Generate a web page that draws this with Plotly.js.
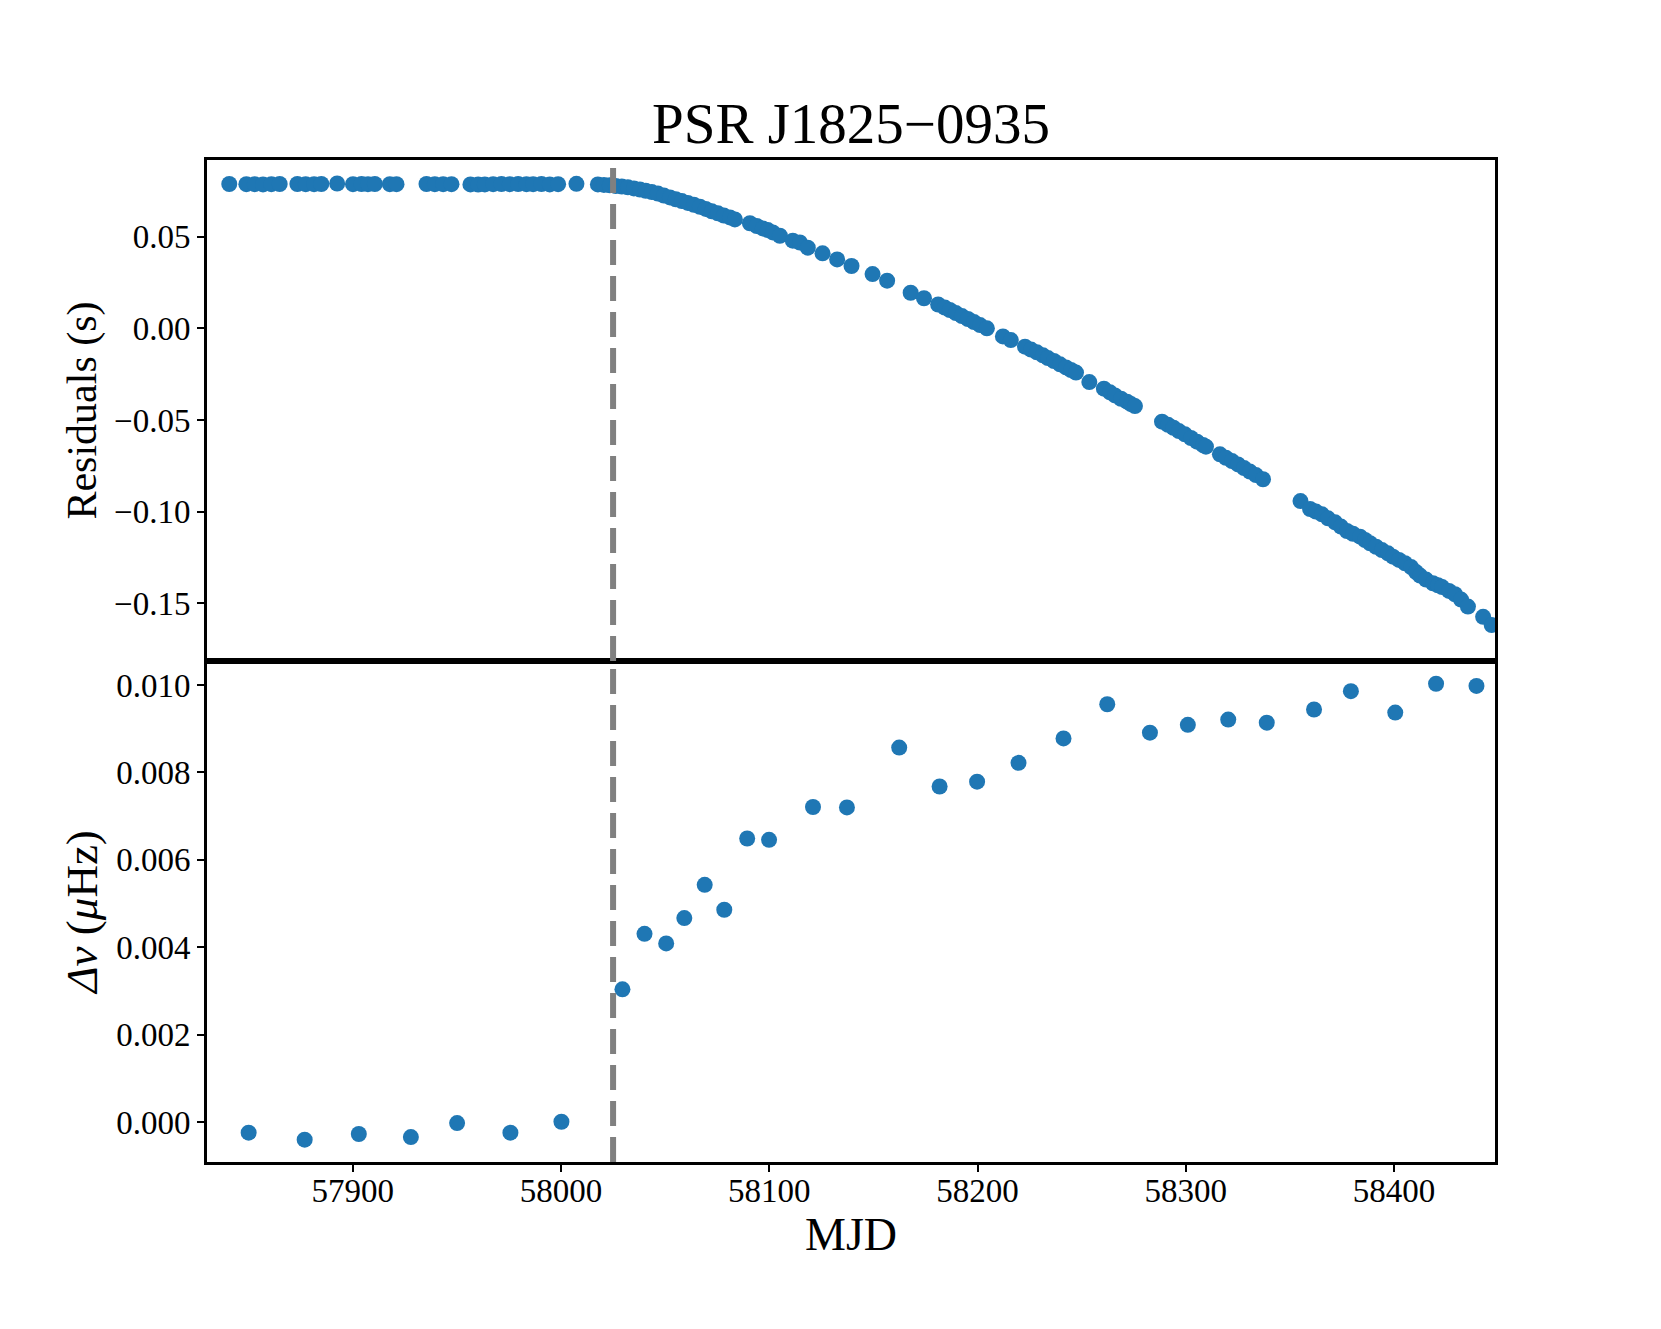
<!DOCTYPE html>
<html>
<head>
<meta charset="utf-8">
<script src="https://cdn.plot.ly/plotly-3.0.1.min.js"></script>
<style>
	body { margin: 0; background: #fff; }
	#graph { width: 1661px; height: 1329px; }
</style>
</head>
<body>
<div id="graph"></div>
<script>
// Timing residuals (top panel)
const resMJD = [
	57840.7, 57848.9, 57852.9, 57856.9, 57860.9, 57864.9, 57873.4, 57877.4, 57881.4, 57884.9,
	57892.5, 57900.1, 57904.2, 57907.3, 57910.6, 57917.8, 57921.0, 57935.4, 57939.4, 57943.4,
	57947.4, 57956.5, 57960.2, 57963.4, 57967.4, 57971.4, 57975.4, 57979.4, 57983.4, 57986.6,
	57990.6, 57994.6, 57998.6, 58007.4,
	58017.7, 58020.6, 58023.4, 58026.3, 58029.2, 58032.1, 58035.0, 58037.9, 58040.7, 58043.6,
	58046.5, 58049.4, 58052.3, 58055.1, 58058.0, 58060.9, 58063.8, 58066.7, 58069.5, 58072.4,
	58075.3, 58078.2, 58081.1, 58083.5, 58090.7, 58094.0, 58096.9, 58099.3, 58101.7, 58105.1,
	58111.3, 58114.7, 58118.5, 58125.6, 58132.6, 58139.5, 58149.6, 58156.6, 58167.9, 58174.3,
	58181.1, 58184.3, 58186.7, 58189.6, 58192.5, 58195.4, 58198.3, 58201.2, 58204.5, 58212.2,
	58216.0, 58222.8, 58225.7, 58228.5, 58231.4, 58233.8, 58236.7, 58239.6, 58242.5, 58244.9,
	58247.3, 58253.7, 58260.7, 58263.6, 58266.0, 58268.9, 58271.8, 58273.7, 58275.6, 58288.6,
	58291.5, 58294.1, 58296.7, 58299.6, 58302.5, 58305.4, 58308.3, 58309.7, 58316.4, 58319.3,
	58322.2, 58325.1, 58328.0, 58330.8, 58333.7, 58337.1, 58355.1, 58359.7, 58362.5, 58365.4,
	58368.3, 58371.7, 58374.5, 58377.4, 58380.3, 58383.7, 58386.1, 58388.5, 58391.4, 58394.2,
	58397.1, 58399.5, 58402.4, 58405.3, 58408.2, 58410.6, 58412.5, 58415.4, 58418.7, 58421.1,
	58423.1, 58426.4, 58429.3, 58432.2, 58435.5, 58442.8, 58446.9
]
const resSec = [
	0.0787, 0.0786, 0.0786, 0.0785, 0.0786, 0.0787, 0.0787, 0.0786, 0.0786, 0.0787,
	0.0790, 0.0786, 0.0787, 0.0786, 0.0787, 0.0786, 0.0786, 0.0787, 0.0786, 0.0786,
	0.0786, 0.0785, 0.0784, 0.0785, 0.0786, 0.0787, 0.0786, 0.0787, 0.0786, 0.0786,
	0.0787, 0.0785, 0.0786, 0.0788,
	0.0785, 0.0782, 0.0780, 0.0776, 0.0773, 0.0769, 0.0763, 0.0757, 0.0750, 0.0743,
	0.0735, 0.0724, 0.0714, 0.0704, 0.0694, 0.0684, 0.0674, 0.0663, 0.0651, 0.0638,
	0.0627, 0.0615, 0.0605, 0.0594, 0.0573, 0.0558, 0.0545, 0.0536, 0.0523, 0.0505,
	0.0478, 0.0468, 0.0440, 0.0409, 0.0376, 0.0340, 0.0296, 0.0260, 0.0194, 0.0164,
	0.0130, 0.0113, 0.0100, 0.0083, 0.0067, 0.0051, 0.0034, 0.0018, 0.0000, -0.0044,
	-0.0064, -0.0100, -0.0116, -0.0131, -0.0147, -0.0162, -0.0178, -0.0196, -0.0213, -0.0227,
	-0.0241, -0.0293, -0.0329, -0.0349, -0.0366, -0.0384, -0.0400, -0.0413, -0.0424, -0.0509,
	-0.0526, -0.0542, -0.0560, -0.0578, -0.0598, -0.0618, -0.0636, -0.0645, -0.0687, -0.0706,
	-0.0724, -0.0742, -0.0762, -0.0781, -0.0800, -0.0823, -0.0942, -0.0985, -0.0999, -0.1014,
	-0.1036, -0.1058, -0.1081, -0.1105, -0.1120, -0.1136, -0.1154, -0.1172, -0.1191, -0.1209,
	-0.1227, -0.1245, -0.1263, -0.1281, -0.1302, -0.1329, -0.1348, -0.1370, -0.1390, -0.1401,
	-0.1411, -0.1432, -0.1450, -0.1479, -0.1517, -0.1573, -0.1618
]

// Frequency offset (bottom panel)
const nuMJD = [
	57850.0, 57876.9, 57902.9, 57927.9, 57950.1, 57975.7, 58000.2,
	58029.5, 58040.1, 58050.5, 58059.2, 58069.0, 58078.4, 58089.4, 58099.9, 58121.0,
	58137.3, 58162.4, 58181.8, 58199.8, 58219.7, 58241.3, 58262.3, 58282.8, 58301.0,
	58320.4, 58338.9, 58361.6, 58379.3, 58400.6, 58420.2, 58439.6
]
const nuOffset = [
	-0.00024, -0.00040, -0.00027, -0.00034, -0.00002, -0.00024, 0.00001,
	0.00304, 0.00431, 0.00409, 0.00467, 0.00543, 0.00486, 0.00649, 0.00646, 0.00721,
	0.00720, 0.00857, 0.00768, 0.00779, 0.00822, 0.00878, 0.00956, 0.00891, 0.00909,
	0.00921, 0.00914, 0.00944, 0.00986, 0.00937, 0.01003, 0.00998
]

const glitchMJD = 58025

const mjdTicks = [57900, 58000, 58100, 58200, 58300, 58400]
const resTicks = [-0.15, -0.10, -0.05, 0.00, 0.05]
const resTickText = ['\u22120.15', '\u22120.10', '\u22120.05', '0.00', '0.05']
const nuTicks = [0.000, 0.002, 0.004, 0.006, 0.008, 0.010]
const nuTickText = ['0.000', '0.002', '0.004', '0.006', '0.008', '0.010']

const FONT = 'Liberation Serif, Times New Roman, serif'
const BLUE = '#1f77b4'

const data = [
	{
		x: resMJD, y: resSec,
		xaxis: 'x2', yaxis: 'y',
		type: 'scatter', mode: 'markers',
		marker: { color: BLUE, size: 16 },
	}, {
		x: nuMJD, y: nuOffset,
		xaxis: 'x', yaxis: 'y2',
		type: 'scatter', mode: 'markers',
		marker: { color: BLUE, size: 16 },
	},
]

const axisCommon = {
	showline: true, mirror: true, linecolor: 'black', linewidth: 3,
	showgrid: false, zeroline: false,
	ticks: 'outside', ticklen: 7, tickwidth: 2, tickcolor: 'black',
	tickfont: { family: FONT, size: 33, color: 'black' },
}

const layout = {
	width: 1661, height: 1329,
	paper_bgcolor: 'white', plot_bgcolor: 'white',
	showlegend: false,
	margin: { l: 207, r: 166, t: 160, b: 167 },
	title: {
		text: 'PSR J1825\u22120935',
		font: { family: FONT, size: 57, color: 'black' },
		x: 0.5, xref: 'paper', y: 0.9075, yref: 'container', yanchor: 'middle',
	},
	xaxis: Object.assign({}, axisCommon, {
		anchor: 'y2', domain: [0, 1],
		range: [57830, 58448.5],
		tickvals: mjdTicks, tickformat: 'd',
		ticklabelstandoff: -10,
		title: { text: 'MJD', font: { family: FONT, size: 46, color: 'black' }, standoff: 10 },
	}),
	xaxis2: Object.assign({}, axisCommon, {
		anchor: 'y', matches: 'x', domain: [0, 1],
		range: [57830, 58448.5],
		ticks: '', showticklabels: false,
	}),
	yaxis: Object.assign({}, axisCommon, {
		anchor: 'x2', domain: [0.5, 1],
		range: [-0.1814, 0.0918],
		tickvals: resTicks, ticktext: resTickText,
		title: { text: 'Residuals (s)', font: { family: FONT, size: 42, color: 'black' }, standoff: 5 },
	}),
	yaxis2: Object.assign({}, axisCommon, {
		anchor: 'x', domain: [0, 0.5],
		range: [-0.00091, 0.01055],
		tickvals: nuTicks, ticktext: nuTickText,
		title: { text: '<i>\u0394\u03bd</i> (<i>\u03bc</i>Hz)', font: { family: FONT, size: 45, color: 'black' }, standoff: 5 },
	}),
	shapes: [
		// glitch epoch, one dashed line per panel so the dashes start at each panel's bottom
		{ type: 'line', xref: 'x', yref: 'y2 domain', x0: glitchMJD, x1: glitchMJD, y0: 0, y1: 1,
			line: { color: 'gray', width: 6, dash: '25px,11px' } },
		{ type: 'line', xref: 'x2', yref: 'y domain', x0: glitchMJD, x1: glitchMJD, y0: 0, y1: 1,
			line: { color: 'gray', width: 6, dash: '25px,11px' } },
	],
}

Plotly.newPlot('graph', data, layout, { displayModeBar: false, staticPlot: true })
</script>
</body>
</html>
